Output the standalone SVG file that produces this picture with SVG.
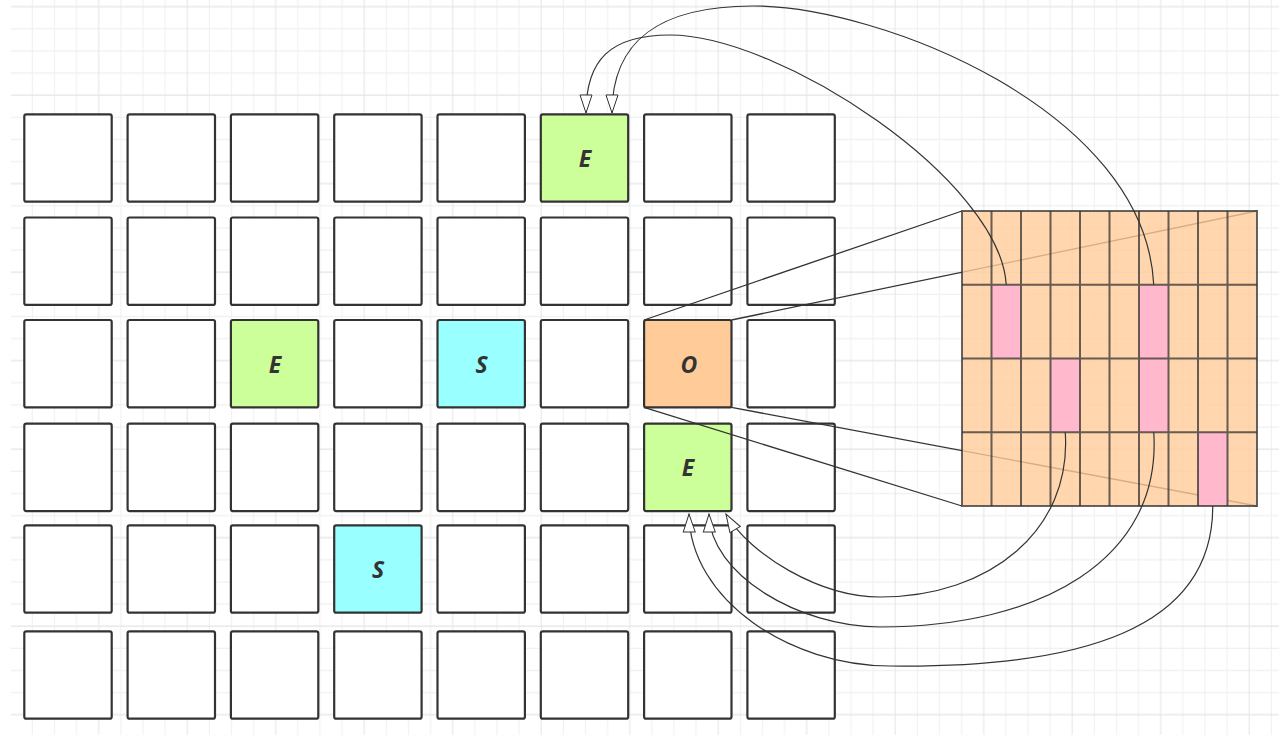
<svg xmlns="http://www.w3.org/2000/svg" width="1279" height="743" viewBox="0 0 1279 743">
<defs>
<pattern id="bg" patternUnits="userSpaceOnUse" x="-0.86" y="-4.36" width="88.5" height="88.5">
<g stroke="#f0f0f0" stroke-width="1">
<line x1="33.19" y1="0" x2="33.19" y2="88.5"/><line x1="55.31" y1="0" x2="55.31" y2="88.5"/><line x1="77.44" y1="0" x2="77.44" y2="88.5"/>
<line x1="0" y1="33.19" x2="88.5" y2="33.19"/><line x1="0" y1="55.31" x2="88.5" y2="55.31"/><line x1="0" y1="77.44" x2="88.5" y2="77.44"/>
</g>
<g stroke="#e4e4e4" stroke-width="1">
<line x1="11.06" y1="0" x2="11.06" y2="88.5"/><line x1="0" y1="11.06" x2="88.5" y2="11.06"/>
</g>
</pattern>
<marker id="open" markerUnits="userSpaceOnUse" markerWidth="22" markerHeight="16" refX="19" refY="7" orient="auto" viewBox="0 0 22 16">
<path d="M1,1 L19,7 L1,13 Z" fill="#ffffff" stroke="#333333" stroke-width="1"/>
</marker>
</defs>
<style>
.c{fill:#ffffff;stroke:#333333;stroke-width:2.2}
.g{fill:#ccff99}
.s{fill:#99ffff}
.o{fill:#ffcc99}
.t{font-family:"Open Sans","Liberation Sans",sans-serif;font-style:italic;font-weight:bold;font-size:23px;fill:#333333;text-anchor:middle}
.ln{stroke:#333333;stroke-width:1.3;fill:none}
.cv{stroke:#333333;stroke-width:1.2;fill:none;marker-end:url(#open)}
.bl{stroke:#333333;stroke-opacity:0.75;stroke-width:2;fill:none}
</style>
<rect x="0" y="0" width="1279" height="743" fill="#ffffff"/>
<rect x="11" y="0" width="1268" height="735" fill="url(#bg)"/>

<g id="cells">
<rect class="c" x="24.3" y="114.3" width="87.4" height="87.4" rx="2"/>
<rect class="c" x="127.6" y="114.3" width="87.4" height="87.4" rx="2"/>
<rect class="c" x="230.9" y="114.3" width="87.4" height="87.4" rx="2"/>
<rect class="c" x="334.2" y="114.3" width="87.4" height="87.4" rx="2"/>
<rect class="c" x="437.5" y="114.3" width="87.4" height="87.4" rx="2"/>
<rect class="c" x="747.4" y="114.3" width="87.4" height="87.4" rx="2"/>
<rect class="c" x="644.1" y="114.3" width="87.4" height="87.4" rx="2"/>

<rect class="c" x="24.3" y="217.5" width="87.4" height="87.4" rx="2"/>
<rect class="c" x="127.6" y="217.5" width="87.4" height="87.4" rx="2"/>
<rect class="c" x="230.9" y="217.5" width="87.4" height="87.4" rx="2"/>
<rect class="c" x="334.2" y="217.5" width="87.4" height="87.4" rx="2"/>
<rect class="c" x="437.5" y="217.5" width="87.4" height="87.4" rx="2"/>
<rect class="c" x="540.8" y="217.5" width="87.4" height="87.4" rx="2"/>
<rect class="c" x="644.1" y="217.5" width="87.4" height="87.4" rx="2"/>
<rect class="c" x="747.4" y="217.5" width="87.4" height="87.4" rx="2"/>

<rect class="c" x="24.3" y="320" width="87.4" height="87.4" rx="2"/>
<rect class="c" x="127.6" y="320" width="87.4" height="87.4" rx="2"/>
<rect class="c" x="334.2" y="320" width="87.4" height="87.4" rx="2"/>
<rect class="c" x="540.8" y="320" width="87.4" height="87.4" rx="2"/>
<rect class="c" x="747.4" y="320" width="87.4" height="87.4" rx="2"/>

<rect class="c" x="24.3" y="423.7" width="87.4" height="87.4" rx="2"/>
<rect class="c" x="127.6" y="423.7" width="87.4" height="87.4" rx="2"/>
<rect class="c" x="230.9" y="423.7" width="87.4" height="87.4" rx="2"/>
<rect class="c" x="334.2" y="423.7" width="87.4" height="87.4" rx="2"/>
<rect class="c" x="437.5" y="423.7" width="87.4" height="87.4" rx="2"/>
<rect class="c" x="540.8" y="423.7" width="87.4" height="87.4" rx="2"/>
<rect class="c" x="747.4" y="423.7" width="87.4" height="87.4" rx="2"/>

<rect class="c" x="24.3" y="525.3" width="87.4" height="87.4" rx="2"/>
<rect class="c" x="127.6" y="525.3" width="87.4" height="87.4" rx="2"/>
<rect class="c" x="230.9" y="525.3" width="87.4" height="87.4" rx="2"/>
<rect class="c" x="437.5" y="525.3" width="87.4" height="87.4" rx="2"/>
<rect class="c" x="540.8" y="525.3" width="87.4" height="87.4" rx="2"/>
<rect class="c" x="644.1" y="525.3" width="87.4" height="87.4" rx="2"/>
<rect class="c" x="747.4" y="525.3" width="87.4" height="87.4" rx="2"/>

<rect class="c" x="24.3" y="631.3" width="87.4" height="87.4" rx="2"/>
<rect class="c" x="127.6" y="631.3" width="87.4" height="87.4" rx="2"/>
<rect class="c" x="230.9" y="631.3" width="87.4" height="87.4" rx="2"/>
<rect class="c" x="334.2" y="631.3" width="87.4" height="87.4" rx="2"/>
<rect class="c" x="437.5" y="631.3" width="87.4" height="87.4" rx="2"/>
<rect class="c" x="540.8" y="631.3" width="87.4" height="87.4" rx="2"/>
<rect class="c" x="644.1" y="631.3" width="87.4" height="87.4" rx="2"/>
<rect class="c" x="747.4" y="631.3" width="87.4" height="87.4" rx="2"/>
</g>

<g id="node-e-top">
<rect class="c g" x="540.8" y="114.3" width="87.4" height="87.4" rx="2"/>
<text class="t" x="585" y="166.5">E</text>
</g>
<g id="node-e-left">
<rect class="c g" x="230.9" y="320" width="87.4" height="87.4" rx="2"/>
<text class="t" x="275" y="372.5">E</text>
</g>
<g id="node-s-mid">
<rect class="c s" x="437.5" y="320" width="87.4" height="87.4" rx="2"/>
<text class="t" x="481.5" y="372.5">S</text>
</g>
<g id="node-o">
<rect class="c o" x="644.1" y="320" width="87.4" height="87.4" rx="2"/>
<text class="t" x="689" y="372.5">O</text>
</g>
<g id="node-e-bottom">
<rect class="c g" x="644.1" y="423.7" width="87.4" height="87.4" rx="2"/>
<text class="t" x="688" y="476">E</text>
</g>
<g id="node-s-low">
<rect class="c s" x="334.2" y="525.3" width="87.4" height="87.4" rx="2"/>
<text class="t" x="378" y="578">S</text>
</g>

<g id="connectors-back">
<line class="ln" x1="644" y1="320" x2="962" y2="211"/>
<line class="ln" x1="731.5" y1="320" x2="1257" y2="211"/>
<line class="ln" x1="644" y1="407.4" x2="962" y2="506"/>
<line class="ln" x1="731.5" y1="407.4" x2="1257" y2="506"/>
</g>

<g id="bitmap">
<rect x="962" y="211" width="295" height="295" fill="#ffcc99" fill-opacity="0.8"/>
<g fill="#ffb8cc">
<rect x="991.5" y="284.75" width="29.5" height="73.75"/>
<rect x="1139" y="284.75" width="29.5" height="73.75"/>
<rect x="1050.5" y="358.5" width="29.5" height="73.75"/>
<rect x="1139" y="358.5" width="29.5" height="73.75"/>
<rect x="1198" y="432.25" width="29.5" height="73.75"/>
</g>
<path class="bl" d="M991.5,211V506M1021,211V506M1050.5,211V506M1080,211V506M1109.5,211V506M1139,211V506M1168.5,211V506M1198,211V506M1227.5,211V506M962,284.75H1257M962,358.5H1257M962,432.25H1257"/>
<rect class="bl" x="962" y="211" width="295" height="295"/>
</g>

<g id="connectors">
<path class="cv" d="M1006.25,284.75 C1000,180 780,35 670,35 C610,35 586,60 586,113"/>
<path class="cv" d="M1153.75,284.75 C1145,110 880,6 753,6 C660,6 612,40 612,113"/>
<path class="cv" d="M1065.25,432.25 C1072,530 990,597 880,597 C820,597 750,555 726,514"/>
<path class="cv" d="M1153.75,432.25 C1162,560 1040,627 880,627 C800,627 710,575 709,514"/>
<path class="cv" d="M1212.75,506 C1213,630 1080,668 890,666 C790,666 690,600 689,514"/>
</g>
</svg>
